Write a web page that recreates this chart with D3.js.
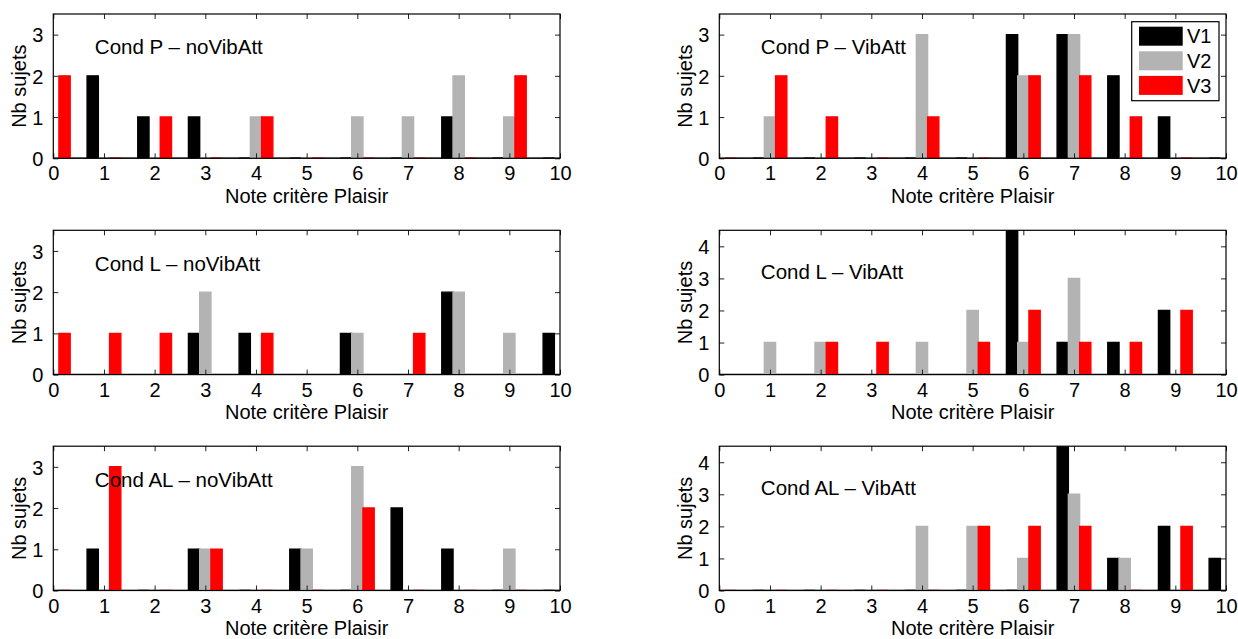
<!DOCTYPE html>
<html>
<head>
<meta charset="utf-8">
<script src="https://cdn.jsdelivr.net/npm/d3@7"></script>
<style>
  html, body { margin: 0; padding: 0; background: #fff; }
  svg text { font-family: "Liberation Sans", Arial, Helvetica, sans-serif; fill: #000; }
</style>
</head>
<body>
<svg id="chart" width="1238" height="639"></svg>
<script>
// Ratings 0..10 on the pleasure criterion
const notes = [0, 1, 2, 3, 4, 5, 6, 7, 8, 9, 10];
const seriesNames = ["V1", "V2", "V3"];
const seriesColors = ["#000000", "#b3b3b3", "#ff0000"];

// Number of subjects per rating, one row per version (V1, V2, V3)
const condP_noVibAtt = [
  [1, 2, 1, 1, 0, 0, 0, 0, 1, 0, 0],
  [0, 0, 0, 0, 1, 0, 1, 1, 2, 1, 0],
  [2, 0, 1, 0, 1, 0, 0, 0, 0, 2, 0]
];
const condP_VibAtt = [
  [0, 0, 0, 0, 0, 0, 3, 3, 2, 1, 0],
  [0, 1, 0, 0, 3, 0, 2, 3, 0, 0, 0],
  [0, 2, 1, 0, 1, 0, 2, 2, 1, 0, 0]
];
const condL_noVibAtt = [
  [0, 0, 0, 1, 1, 0, 1, 0, 2, 0, 1],
  [0, 0, 0, 2, 0, 0, 1, 0, 2, 1, 0],
  [1, 1, 1, 0, 1, 0, 0, 1, 0, 0, 1]
];
const condL_VibAtt = [
  [0, 0, 0, 0, 0, 0, 5, 1, 1, 2, 0],
  [0, 1, 1, 0, 1, 2, 1, 3, 0, 0, 0],
  [0, 0, 1, 1, 0, 1, 2, 1, 1, 2, 0]
];
const condAL_noVibAtt = [
  [0, 1, 0, 1, 0, 1, 0, 2, 1, 0, 0],
  [0, 0, 0, 1, 0, 1, 3, 0, 0, 1, 0],
  [0, 3, 0, 1, 0, 0, 2, 0, 0, 0, 0]
];
const condAL_VibAtt = [
  [0, 0, 0, 0, 0, 0, 0, 5, 1, 2, 1],
  [0, 0, 0, 0, 2, 2, 1, 3, 1, 0, 0],
  [0, 0, 0, 0, 0, 2, 2, 2, 0, 2, 1]
];

const panelTitles = [
  "Cond P \u2013 noVibAtt", "Cond P \u2013 VibAtt",
  "Cond L \u2013 noVibAtt", "Cond L \u2013 VibAtt",
  "Cond AL \u2013 noVibAtt", "Cond AL \u2013 VibAtt"
];
const panelData = [condP_noVibAtt, condP_VibAtt, condL_noVibAtt, condL_VibAtt, condAL_noVibAtt, condAL_VibAtt];
const yMaxes = [3.5, 3.5, 3.5, 4.5, 3.5, 4.5];
const yTickValues = [[0, 1, 2, 3], [0, 1, 2, 3], [0, 1, 2, 3], [0, 1, 2, 3, 4], [0, 1, 2, 3], [0, 1, 2, 3, 4]];
const xTickValues = [0, 1, 2, 3, 4, 5, 6, 7, 8, 9, 10];
const xLabel = "Note crit\u00e8re Plaisir";
const yLabel = "Nb sujets";

// ---- layout ----
const colLeft = [53.3, 719.3];
const plotW = 506.7;
const rowTop = [14, 230.3, 446.2];
const plotH = 144.3;
const titleYData = [2.7, 2.7, 2.7, 3.2, 2.7, 3.2];
const fontSize = 20;
const titleSize = 20.5;
const tickLen = 5;
const groupWidth = 0.666;

const svg = d3.select("#chart");
const defs = svg.append("defs");

panelData.forEach((series, i) => {
  const col = i % 2, row = Math.floor(i / 2);
  const left = colLeft[col], top = rowTop[row];
  const g = svg.append("g").attr("transform", `translate(${left},${top})`);

  const x = d3.scaleLinear().domain([0, 10]).range([0, plotW]);
  const y = d3.scaleLinear().domain([0, yMaxes[i]]).range([plotH, 0]);
  const step = groupWidth / seriesNames.length;
  const barW = x(step) - x(0);

  const clipId = "clip" + i;
  defs.append("clipPath").attr("id", clipId)
    .append("rect").attr("x", 0).attr("y", 0).attr("width", plotW).attr("height", plotH);

  const plot = g.append("g").attr("clip-path", `url(#${clipId})`);

  // baseline of the bar series
  plot.append("line")
    .attr("x1", 0).attr("x2", plotW)
    .attr("y1", y(0)).attr("y2", y(0))
    .attr("stroke", "#000").attr("stroke-width", 1.6);

  // grouped bars, V1 left / V2 centre / V3 right of each rating;
  // drawn as closed paths so that empty classes still show as a flat coloured edge
  series.forEach((vals, s) => {
    const offset = (s - 1) * step;
    plot.append("g").selectAll("path")
      .data(vals.map((v, k) => ({ note: notes[k], v })))
      .join("path")
      .attr("d", d => {
        const x0 = x(d.note + offset) - barW / 2, x1 = x0 + barW;
        const p = d3.path();
        p.moveTo(x0, y(0));
        p.lineTo(x0, y(d.v));
        p.lineTo(x1, y(d.v));
        p.lineTo(x1, y(0));
        p.closePath();
        return p.toString();
      })
      .attr("fill", seriesColors[s])
      .attr("stroke", seriesColors[s])
      .attr("stroke-width", 1.4);
  });

  // ticks on all four sides, pointing inward
  const xb = g.append("g").attr("transform", `translate(0,${plotH})`)
    .call(d3.axisBottom(x).tickValues(xTickValues).tickSize(-tickLen).tickPadding(tickLen + 3).tickFormat(d3.format("d")));
  const xt = g.append("g")
    .call(d3.axisTop(x).tickValues(xTickValues).tickSize(-tickLen).tickFormat(""));
  const yl = g.append("g")
    .call(d3.axisLeft(y).tickValues(yTickValues[i]).tickSize(-tickLen).tickPadding(tickLen + 5).tickFormat(d3.format("d")));
  const yr = g.append("g").attr("transform", `translate(${plotW},0)`)
    .call(d3.axisRight(y).tickValues(yTickValues[i]).tickSize(-tickLen).tickFormat(""));
  [xb, xt, yl, yr].forEach(a => {
    a.select(".domain").remove();
    a.selectAll("line").attr("stroke", "#222").attr("stroke-width", 1);
    a.selectAll("text").attr("font-size", fontSize).attr("fill", "#000")
      .attr("font-family", '"Liberation Sans", Arial, sans-serif');
  });
  xb.selectAll("text").attr("dy", "0.71em");
  yl.selectAll("text").attr("dy", "0.36em");

  // axes box
  g.append("rect").attr("x", 0).attr("y", 0).attr("width", plotW).attr("height", plotH)
    .attr("fill", "none").attr("stroke", "#000").attr("stroke-width", 1.2);

  // condition title inside the axes
  g.append("text")
    .attr("x", x(0.82))
    .attr("y", y(titleYData[i]))
    .attr("dy", "0.36em")
    .attr("font-size", titleSize)
    .text(panelTitles[i]);

  // axis labels
  g.append("text")
    .attr("x", plotW / 2).attr("y", plotH + 44.5)
    .attr("text-anchor", "middle").attr("font-size", fontSize)
    .text(xLabel);
  g.append("text")
    .attr("transform", `translate(-34,${plotH / 2}) rotate(-90)`)
    .attr("text-anchor", "middle").attr("dominant-baseline", "central")
    .attr("font-size", fontSize)
    .text(yLabel);

  // legend in the top-right panel
  if (i === 1) {
    const lg = g.append("g").attr("transform", `translate(${plotW - 94.3},7.7)`);
    lg.append("rect").attr("width", 87.3).attr("height", 79)
      .attr("fill", "#fff").attr("stroke", "#000").attr("stroke-width", 1.2);
    seriesNames.forEach((name, s) => {
      const row = lg.append("g").attr("transform", `translate(7.3,${5 + s * 24.6})`);
      row.append("rect").attr("width", 43.7).attr("height", 19)
        .attr("fill", seriesColors[s]);
      row.append("text").attr("x", 48).attr("y", 9.5).attr("dy", "0.36em")
        .attr("font-size", fontSize).text(name);
    });
  }
});
</script>
</body>
</html>
